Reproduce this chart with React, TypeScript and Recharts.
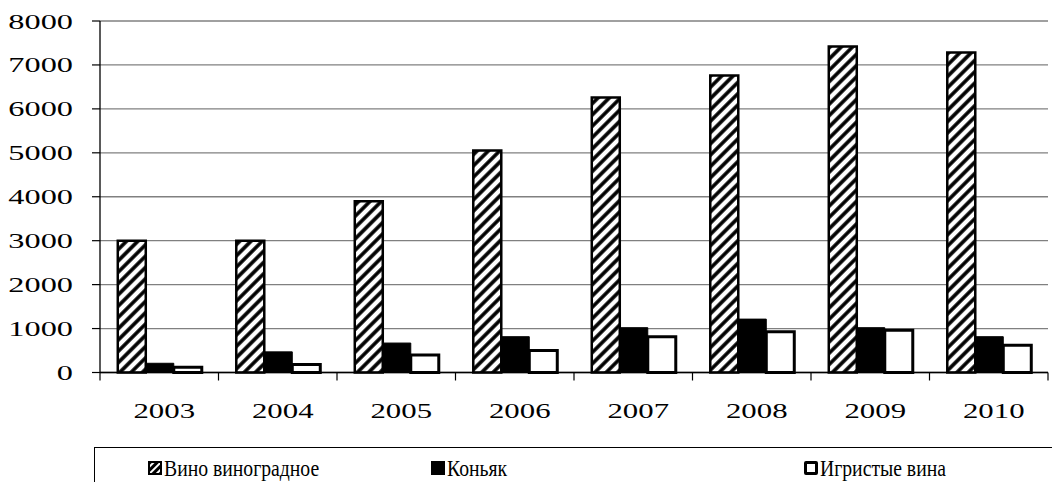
import React from 'react';
import { BarChart, Bar, XAxis, YAxis, CartesianGrid } from 'recharts';

const years = ['2003', '2004', '2005', '2006', '2007', '2008', '2009', '2010'];
const wine = [3000, 3000, 3900, 5050, 6260, 6760, 7420, 7285];
const cognac = [210, 470, 670, 815, 1020, 1215, 1020, 815];
const sparkling = [120, 180, 400, 500, 815, 930, 960, 620];
const yTicks = [0, 1000, 2000, 3000, 4000, 5000, 6000, 7000, 8000];
const seriesNames = ['Вино виноградное', 'Коньяк', 'Игристые вина'];

const data = years.map((year, i) => ({
  year,
  wine: wine[i],
  cognac: cognac[i],
  sparkling: sparkling[i],
}));

const FONT = '"Liberation Serif", "Times New Roman", serif';

const YTick = (props: any) => {
  const { x, y, payload } = props;
  return (
    <text
      transform={`translate(${x - 19},${y}) scale(1.47,1)`}
      textAnchor="end"
      dominantBaseline="central"
      fontFamily={FONT}
      fontSize={22}
      fill="#000"
    >
      {payload.value}
    </text>
  );
};

const XTick = (props: any) => {
  const { x, y, payload, index, visibleTicksCount } = props;
  const half = payload.offset || 0;
  const last = index === visibleTicksCount - 1;
  return (
    <g>
      <line x1={x - half} x2={x - half} y1={y} y2={y + 8} stroke="#000" strokeWidth={1.2} />
      {last && <line x1={x + half} x2={x + half} y1={y} y2={y + 8} stroke="#000" strokeWidth={1.2} />}
      <text
        transform={`translate(${x + 5},${y + 45}) scale(1.4,1)`}
        textAnchor="middle"
        fontFamily={FONT}
        fontSize={22}
        fill="#000"
      >
        {payload.value}
      </text>
    </g>
  );
};

const HatchIcon = () => (
  <svg width={14} height={14} style={{ display: 'block' }}>
    <defs>
      <pattern id="hatchIcon" patternUnits="userSpaceOnUse" width="5" height="5" patternTransform="rotate(45)">
        <rect width="5" height="5" fill="#fff" />
        <line x1="2.5" y1="0" x2="2.5" y2="5" stroke="#000" strokeWidth="3" />
      </pattern>
    </defs>
    <rect x={1} y={1} width={12} height={12} fill="url(#hatchIcon)" stroke="#000" strokeWidth={2} />
  </svg>
);

const legendIcons = [
  <HatchIcon key="w" />,
  <div key="c" style={{ width: 14, height: 14, background: '#000' }} />,
  <div key="s" style={{ width: 14, height: 14, boxSizing: 'border-box', border: '3px solid #000', borderRadius: 2, background: '#fff' }} />,
];
const legendLeft = [53, 336, 709];

export default function App() {
  return (
    <div style={{ position: 'absolute', left: 0, top: 0, width: 1052, height: 482, background: '#fff', overflow: 'hidden' }}>
      <BarChart
        width={1052}
        height={482}
        data={data}
        margin={{ top: 21, right: 4, bottom: 60, left: 0 }}
        barCategoryGap="15%"
        barGap={0}
      >
        <defs>
          <pattern id="hatch" patternUnits="userSpaceOnUse" width="8" height="8" patternTransform="rotate(45)">
            <rect width="8" height="8" fill="#fff" />
            <line x1="4" y1="0" x2="4" y2="8" stroke="#000" strokeWidth="3.6" />
          </pattern>
        </defs>
        <CartesianGrid vertical={false} stroke="#808080" strokeWidth={1.3} />
        <XAxis
          dataKey="year"
          height={49.5}
          tickSize={0}
          tickMargin={0}
          tickLine={false}
          axisLine={{ stroke: '#000', strokeWidth: 1.3 }}
          tick={<XTick />}
          interval={0}
        />
        <YAxis
          width={100}
          domain={[0, 8000]}
          ticks={yTicks}
          tickSize={8}
          tickMargin={0}
          tickLine={{ stroke: '#000', strokeWidth: 1.2 }}
          axisLine={{ stroke: '#000', strokeWidth: 1.3 }}
          tick={<YTick />}
          interval={0}
        />
        <YAxis
          yAxisId="right"
          orientation="right"
          width={0}
          domain={[0, 8000]}
          tick={false}
          tickLine={false}
          axisLine={{ stroke: '#808080', strokeWidth: 1.3 }}
        />
        <Bar dataKey="wine" name={seriesNames[0]} fill="url(#hatch)" stroke="#000" strokeWidth={2.5} isAnimationActive={false} />
        <Bar dataKey="cognac" name={seriesNames[1]} fill="#000" stroke="#000" strokeWidth={1} isAnimationActive={false} />
        <Bar dataKey="sparkling" name={seriesNames[2]} fill="#fff" stroke="#000" strokeWidth={3} isAnimationActive={false} />
      </BarChart>
      <div
        style={{
          position: 'absolute',
          left: 94,
          top: 447,
          width: 1000,
          height: 60,
          border: '1.3px solid #000',
          boxSizing: 'border-box',
        }}
      >
        {seriesNames.map((name, i) => (
          <div
            key={name}
            style={{ position: 'absolute', left: legendLeft[i], top: 9, display: 'flex', alignItems: 'center' }}
          >
            {legendIcons[i]}
            <span
              style={{
                fontFamily: FONT,
                fontSize: 24,
                marginLeft: 2,
                whiteSpace: 'nowrap',
                lineHeight: '22px',
                display: 'inline-block',
                transform: 'scaleX(0.82)',
                transformOrigin: 'left center',
              }}
            >
              {name}
            </span>
          </div>
        ))}
      </div>
    </div>
  );
}
